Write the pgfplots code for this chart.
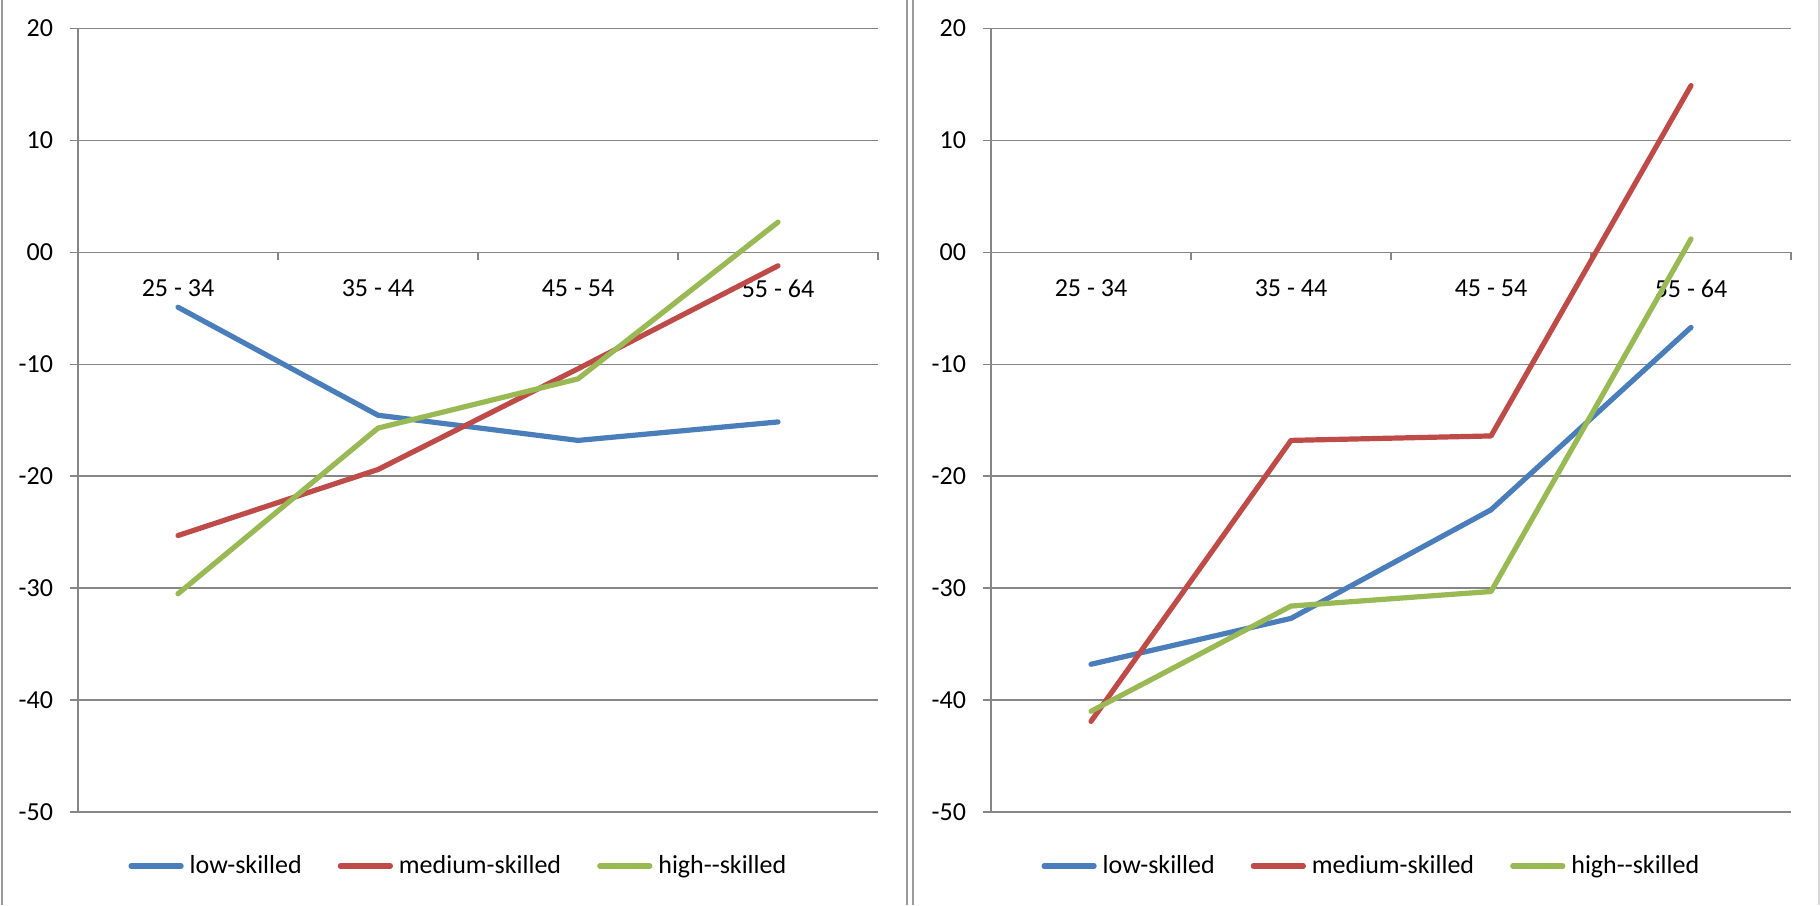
\documentclass[border=0pt]{standalone}
\usepackage{fontspec}
\setmainfont{Carlito}
\usepackage{pgfplots}
\usepackage{pgfplotstable}
\pgfplotsset{compat=1.18}

\definecolor{lowc}{HTML}{4A7EBB}
\definecolor{medc}{HTML}{BE4B48}
\definecolor{highc}{HTML}{98B954}
\definecolor{gridc}{HTML}{868686}
\definecolor{framec}{HTML}{9A9A9A}

% change by age group, position 0..3 = 25-34 ... 55-64
\pgfplotstableread{
pos low    med    high
0   -4.9   -25.3  -30.5
1   -14.55 -19.4  -15.7
2   -16.8  -10.4  -11.3
3   -15.15 -1.2   2.7
}\leftdata
\pgfplotstableread{
pos low    med    high
0   -36.8  -41.9  -41.0
1   -32.7  -16.8  -31.6
2   -23.0  -16.4  -30.3
3   -6.7   14.9   1.2
}\rightdata

\pgfplotsset{
  agepanel/.style={
    scale only axis, width=400pt, height=391.75pt,
    xmin=-0.5, xmax=3.5, ymin=-50, ymax=20,
    axis y line=left, axis x line=middle,
    axis line style={-, draw=gridc, line width=0.8pt},
    ytick={-50,-40,...,20},
    yticklabels={-50,-40,-30,-20,-10,00,10,20},
    ymajorgrids, grid style={gridc, line width=0.8pt},
    xtick={-0.5,0.5,1.5,2.5,3.5}, xticklabels={},
    extra x ticks={0,1,2,3},
    extra x tick labels={25 - 34, 35 - 44, 45 - 54, 55 - 64},
    extra x tick style={xtick style={draw=none}},
    tick align=outside, major tick length=4pt,
    tick style={gridc, line width=0.8pt},
    xticklabel style={anchor=center, yshift=-14pt},
    yticklabel style={xshift=-4pt},
    legend style={at={(0.478,-0.069)}, anchor=center, draw=none,
      fill=none, legend columns=3,
      nodes={inner xsep=3pt},
      /tikz/every even column/.append style={column sep=15pt}},
    legend image code/.code={\draw (0pt,0pt) -- (25pt,0pt);},
    every axis plot/.append style={line width=2.6pt, line cap=round, line join=round, mark=none},
  }
}

\begin{document}
\fontsize{13}{15.6}\selectfont
\begin{tikzpicture}
\useasboundingbox (0,0) rectangle (910pt,-452.5pt);
\fill[white] (0,0) rectangle (910pt,-452.5pt);
% panel frames
\draw[framec, line width=1pt] (1pt,0) -- (1pt,-452.5pt);
\draw[framec, line width=1pt] (453.5pt,0) -- (453.5pt,-452.5pt);
\draw[framec, line width=1pt] (456.5pt,0) -- (456.5pt,-452.5pt);
\draw[gray!30, line width=1pt] (909.5pt,0) -- (909.5pt,-452.5pt);

\begin{axis}[agepanel, at={(39pt,-406pt)}, anchor=south west]
  \addplot[lowc]  table[x=pos, y=low]  {\leftdata};
  \addplot[medc]  table[x=pos, y=med]  {\leftdata};
  \addplot[highc] table[x=pos, y=high] {\leftdata};
  \legend{low-skilled, medium-skilled, high-{}-skilled}
\end{axis}

\begin{axis}[agepanel, at={(495.5pt,-406pt)}, anchor=south west]
  \addplot[lowc]  table[x=pos, y=low]  {\rightdata};
  \addplot[medc]  table[x=pos, y=med]  {\rightdata};
  \addplot[highc] table[x=pos, y=high] {\rightdata};
  \legend{low-skilled, medium-skilled, high-{}-skilled}
\end{axis}
\end{tikzpicture}
\end{document}
